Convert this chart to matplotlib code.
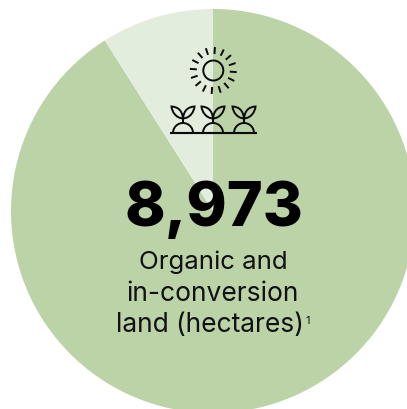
import numpy as np
import matplotlib
matplotlib.use("Agg")
import matplotlib.pyplot as plt
from matplotlib.path import Path
from matplotlib.patches import PathPatch, Circle, Arc

# data
shares = [91.0, 9.0]
slice_colors = ["#BBD3A7", "#E3EDDD"]
headline = "8,973"
caption_lines = ["Organic and", "in-conversion", "land (hectares)"]
footnote = "1"

W, H = 407, 410
fig = plt.figure(figsize=(W / 100, H / 100), dpi=100, facecolor="white")
ax = fig.add_axes([0, 0, 1, 1])
ax.pie(shares, colors=slice_colors, startangle=90, counterclock=False,
       center=(213, H - 212), radius=202, frame=True,
       wedgeprops=dict(linewidth=0))
ax.set_xlim(0, W)
ax.set_ylim(0, H)
ax.set_aspect("equal")
ax.axis("off")

Y = lambda y: H - y
ink = "#0A0A0A"
lw = 1.4

# sun icon
sx, sy = 213.3, 71.5
ax.add_patch(Circle((sx, Y(sy)), 10, fill=False, ec=ink, lw=lw))
for a in np.arange(16) * 22.5 + 4:
    r = np.radians(a)
    ax.plot([sx + 16.5 * np.sin(r), sx + 23.5 * np.sin(r)],
            [Y(sy) + 16.5 * np.cos(r), Y(sy) + 23.5 * np.cos(r)],
            color=ink, lw=lw, solid_capstyle="butt")

# seedlings icon
ax.plot([169.5, 257], [Y(134), Y(134)], color=ink, lw=lw * 1.1, solid_capstyle="butt")
for cx in (183, 213, 244):
    ax.add_patch(Arc((cx, Y(134)), 20, 20, theta1=0, theta2=180, ec=ink, lw=lw))
    ax.plot([cx, cx], [Y(124), Y(119)], color=ink, lw=lw)
    for s in (-1, 1):
        verts = [(cx, Y(119.5)),
                 (cx - s * -1, Y(111)), (cx + s * 5, Y(108)), (cx + s * 11.5, Y(107.5)),
                 (cx + s * 11, Y(113)), (cx + s * 7, Y(119)), (cx, Y(119.5))]
        codes = [Path.MOVETO, Path.CURVE4, Path.CURVE4, Path.CURVE4,
                 Path.CURVE4, Path.CURVE4, Path.CURVE4]
        ax.add_patch(PathPatch(Path(verts, codes), fill=False, ec=ink, lw=lw))

# text
ax.text(213.5, Y(226), headline, ha="center", va="baseline", fontsize=44,
        family="Inter", weight=800, color="#000000")
for line, base, cx, fs in zip(caption_lines, (268.5, 301, 332.5), (213, 213, 210), (18.6, 19, 19)):
    ax.text(cx, Y(base), line, ha="center", va="baseline", fontsize=fs,
            family="Inter", color="#111111")
ax.text(307.5, Y(324.5), footnote, ha="center", va="baseline", fontsize=8,
        family="Inter", color="#111111")

fig.savefig("out.png", dpi=100, facecolor="white")
